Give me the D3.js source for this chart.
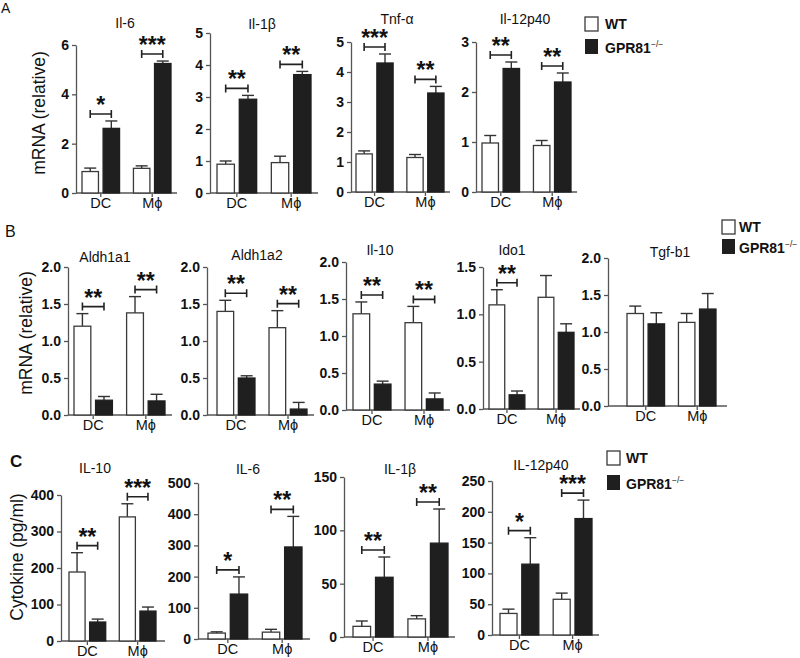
<!DOCTYPE html>
<html>
<head>
<meta charset="utf-8">
<script src="https://cdn.jsdelivr.net/npm/d3@7"></script>
<style>
  body { margin: 0; background: #fff; }
  svg { font-family: "Liberation Sans", Arial, sans-serif; }
</style>
</head>
<body>
<svg id="fig" width="800" height="658"></svg>
<script>
const cells = ["DC", "Mϕ"]
const groups = ["WT", "GPR81"]

// A: mRNA, relative
const aGenes = ["Il-6", "Il-1β", "Tnf-α", "Il-12p40"]
const aMax = [6, 5, 5, 3]
const aStep = [2, 1, 1, 1]
const aWT = [[0.87, 1.0], [0.9, 0.95], [1.27, 1.15], [0.98, 0.93]]
const aWTErr = [[0.14, 0.1], [0.1, 0.2], [0.1, 0.1], [0.15, 0.1]]
const aKO = [[2.62, 5.25], [2.93, 3.7], [4.3, 3.3], [2.47, 2.2]]
const aKOErr = [[0.3, 0.1], [0.12, 0.1], [0.3, 0.22], [0.13, 0.18]]
const aSig = [["*", "***"], ["**", "**"], ["***", "**"], ["**", "**"]]

// B: mRNA, relative
const bGenes = ["Aldh1a1", "Aldh1a2", "Il-10", "Ido1", "Tgf-b1"]
const bMax = [2, 2, 2, 1.5, 2]
const bStep = [0.5, 0.5, 0.5, 0.5, 0.5]
const bWT = [[1.2, 1.38], [1.4, 1.18], [1.3, 1.18], [1.1, 1.18], [1.25, 1.13]]
const bWTErr = [[0.17, 0.22], [0.15, 0.23], [0.16, 0.22], [0.16, 0.23], [0.1, 0.12]]
const bKO = [[0.2, 0.19], [0.5, 0.08], [0.35, 0.15], [0.15, 0.81], [1.11, 1.31]]
const bKOErr = [[0.05, 0.09], [0.03, 0.09], [0.04, 0.08], [0.04, 0.09], [0.15, 0.21]]
const bSig = [["**", "**"], ["**", "**"], ["**", "**"], ["**", ""], ["", ""]]

// C: cytokine, pg/ml
const cGenes = ["IL-10", "IL-6", "IL-1β", "IL-12p40"]
const cMax = [400, 500, 150, 250]
const cStep = [100, 100, 50, 50]
const cWT = [[189, 340], [19, 22], [10, 17], [35, 58]]
const cWTErr = [[53, 36], [4, 9], [5, 3], [7, 10]]
const cKO = [[52, 82], [144, 295], [56, 88], [115, 189]]
const cKOErr = [[8, 11], [55, 98], [19, 32], [43, 30]]
const cSig = [["**", "***"], ["*", "**"], ["**", "**"], ["*", "***"]]

// layout of each row of panels
const layoutA = {
  axisX: [76, 210, 351, 476], axisEnd: [177, 318, 450, 577],
  barL: [82, 217, 356, 482], barR: [171, 311, 444, 571],
  y0: [193, 193, 192, 192], yTop: [45, 33, 42, 42],
  titleX: [125, 262, 397, 525], titleY: [28, 29, 24, 24]
}
const layoutB = {
  axisX: [68, 207, 346, 483, 608], axisEnd: [172, 314, 450, 580, 727],
  barL: [74, 217, 353, 489, 627], barR: [165, 307, 443, 574, 716],
  y0: [415, 415, 410, 409, 406], yTop: [267, 267, 262, 267, 258],
  titleX: [105, 257, 380, 512, 670], titleY: [262, 260, 255, 255, 257]
}
const layoutC = {
  axisX: [61, 198, 344, 492], axisEnd: [165, 310, 455, 599],
  barL: [69, 208, 353, 500], barR: [156, 302, 448, 592],
  y0: [641, 639, 637, 635], yTop: [495, 483, 477, 481],
  titleX: [95, 248, 400, 541], titleY: [473, 474, 474, 470]
}

const ink = "#111"
const axisCol = "#555"
const koFill = "#1f1f1f"

const svg = d3.select("#fig")

function drawPanel(o) {
  const g = svg.append("g")
  const y = d3.scaleLinear().domain([0, o.max]).range([o.y0, o.yTop])
  const ticks = d3.range(0, o.max + o.step / 2, o.step)

  const ya = g.append("g")
    .attr("transform", `translate(${o.axisX},0)`)
    .call(d3.axisLeft(y).tickValues(ticks).tickFormat(o.fmt).tickSize(4).tickSizeOuter(0).tickPadding(3))
  ya.select(".domain").attr("stroke", axisCol).attr("stroke-width", 1.3)
  ya.selectAll(".tick line").attr("stroke", axisCol).attr("stroke-width", 1.3)
  ya.selectAll(".tick text")
    .attr("fill", ink).style("font-size", "14px").style("font-weight", "bold")
    .style("font-family", "'Liberation Sans', Arial, sans-serif")

  g.append("line")
    .attr("x1", o.axisX).attr("x2", o.axisEnd)
    .attr("y1", o.y0).attr("y2", o.y0)
    .attr("stroke", axisCol).attr("stroke-width", 1.3)

  const x = d3.scaleBand().domain(cells).range([o.barL, o.barR]).paddingInner(0.27).paddingOuter(0)
  const xi = d3.scaleBand().domain(groups).range([0, x.bandwidth()]).paddingInner(0.22)

  const xa = g.append("g")
    .attr("transform", `translate(0,${o.y0})`)
    .call(d3.axisBottom(x).tickSize(4).tickPadding(1))
  xa.select(".domain").remove()
  xa.selectAll(".tick line").attr("stroke", axisCol).attr("stroke-width", 1.3)
  xa.selectAll(".tick text")
    .attr("fill", ink).style("font-size", "14.5px")
    .style("font-family", "'Liberation Sans', Arial, sans-serif")

  const rows = cells.flatMap((c, i) => [
    { cell: c, grp: "WT", v: o.wt[i], e: o.wtErr[i] },
    { cell: c, grp: "GPR81", v: o.ko[i], e: o.koErr[i] }
  ])
  const cx = d => x(d.cell) + xi(d.grp) + xi.bandwidth() / 2

  // error bars (upper only)
  g.selectAll(".err").data(rows).enter().append("line")
    .attr("x1", cx).attr("x2", cx)
    .attr("y1", d => y(d.v)).attr("y2", d => y(d.v + d.e))
    .attr("stroke", "#333").attr("stroke-width", 1.4)
  g.selectAll(".cap").data(rows).enter().append("line")
    .attr("x1", d => cx(d) - 6).attr("x2", d => cx(d) + 6)
    .attr("y1", d => y(d.v + d.e)).attr("y2", d => y(d.v + d.e))
    .attr("stroke", "#333").attr("stroke-width", 1.4)

  g.selectAll(".bar").data(rows).enter().append("rect")
    .attr("x", d => x(d.cell) + xi(d.grp))
    .attr("y", d => y(d.v))
    .attr("width", xi.bandwidth())
    .attr("height", d => o.y0 - y(d.v))
    .attr("fill", d => d.grp === "WT" ? "#fff" : koFill)
    .attr("stroke", d => d.grp === "WT" ? "#3a3a3a" : koFill)
    .attr("stroke-width", 1.3)

  // significance brackets
  cells.forEach((c, i) => {
    if (!o.sig[i]) return
    const top = Math.min(y(o.wt[i] + o.wtErr[i]), y(o.ko[i] + o.koErr[i])) - 7
    const xa1 = cx(rows[i * 2]), xa2 = cx(rows[i * 2 + 1])
    g.append("path")
      .attr("d", `M${xa1},${top - 4}V${top + 4}M${xa1},${top}H${xa2}M${xa2},${top - 4}V${top + 4}`)
      .attr("fill", "none").attr("stroke", "#222").attr("stroke-width", 1.6)
    g.append("text")
      .attr("x", (xa1 + xa2) / 2).attr("y", top - 1)
      .attr("text-anchor", "middle")
      .attr("fill", ink)
      .style("font-size", "23px").style("font-weight", "bold")
      .text(o.sig[i])
  })

  g.append("text")
    .attr("x", o.titleX).attr("y", o.titleY)
    .attr("text-anchor", "middle").attr("fill", ink)
    .style("font-size", "14px")
    .text(o.title)
}

function drawRow(genes, max, step, wt, wtErr, ko, koErr, sig, lay, fmt) {
  genes.forEach((gene, k) => {
    drawPanel({
      title: gene, max: max[k], step: step[k], fmt: fmt,
      wt: wt[k], wtErr: wtErr[k], ko: ko[k], koErr: koErr[k], sig: sig[k],
      axisX: lay.axisX[k], axisEnd: lay.axisEnd[k], barL: lay.barL[k], barR: lay.barR[k],
      y0: lay.y0[k], yTop: lay.yTop[k], titleX: lay.titleX[k], titleY: lay.titleY[k]
    })
  })
}

drawRow(aGenes, aMax, aStep, aWT, aWTErr, aKO, aKOErr, aSig, layoutA, d3.format("d"))
drawRow(bGenes, bMax, bStep, bWT, bWTErr, bKO, bKOErr, bSig, layoutB, d3.format(".1f"))
drawRow(cGenes, cMax, cStep, cWT, cWTErr, cKO, cKOErr, cSig, layoutC, d3.format("d"))

function drawLegend(bx, by1, by2, tx) {
  const g = svg.append("g")
  g.append("rect").attr("x", bx).attr("y", by1).attr("width", 13).attr("height", 14)
    .attr("fill", "#fff").attr("stroke", "#3a3a3a").attr("stroke-width", 1.3)
  g.append("rect").attr("x", bx).attr("y", by2).attr("width", 13).attr("height", 15)
    .attr("fill", koFill)
  g.append("text").attr("x", tx).attr("y", by1 + 12).attr("fill", ink)
    .style("font-size", "14px").style("font-weight", "bold").text(groups[0])
  const t = g.append("text").attr("x", tx).attr("y", by2 + 14).attr("fill", ink)
    .style("font-size", "14px").style("font-weight", "bold")
  t.append("tspan").text(groups[1])
  t.append("tspan").attr("dy", -6).style("font-size", "8.5px").style("font-weight", "normal").text("−/−")
}

drawLegend(585, 17, 39, 605)
drawLegend(722, 220, 239, 739)
drawLegend(607, 451, 475, 626)

// y axis titles
const yTitles = [
  { t: "mRNA (relative)", x: 39, y: 113 },
  { t: "mRNA (relative)", x: 26, y: 333 },
  { t: "Cytokine (pg/ml)", x: 17, y: 557 }
]
yTitles.forEach(d => {
  svg.append("text")
    .attr("transform", `translate(${d.x},${d.y}) rotate(-90)`)
    .attr("text-anchor", "middle").attr("dominant-baseline", "central")
    .attr("fill", ink).style("font-size", "17.5px")
    .text(d.t)
})

// panel letters
svg.append("text").attr("x", 1).attr("y", 13).attr("fill", ink).style("font-size", "14px").text("A")
svg.append("text").attr("x", 5).attr("y", 237).attr("fill", ink).style("font-size", "16px").text("B")
svg.append("text").attr("x", 10).attr("y", 467).attr("fill", ink).style("font-size", "17px").style("font-weight", "bold").text("C")
</script>
</body>
</html>
